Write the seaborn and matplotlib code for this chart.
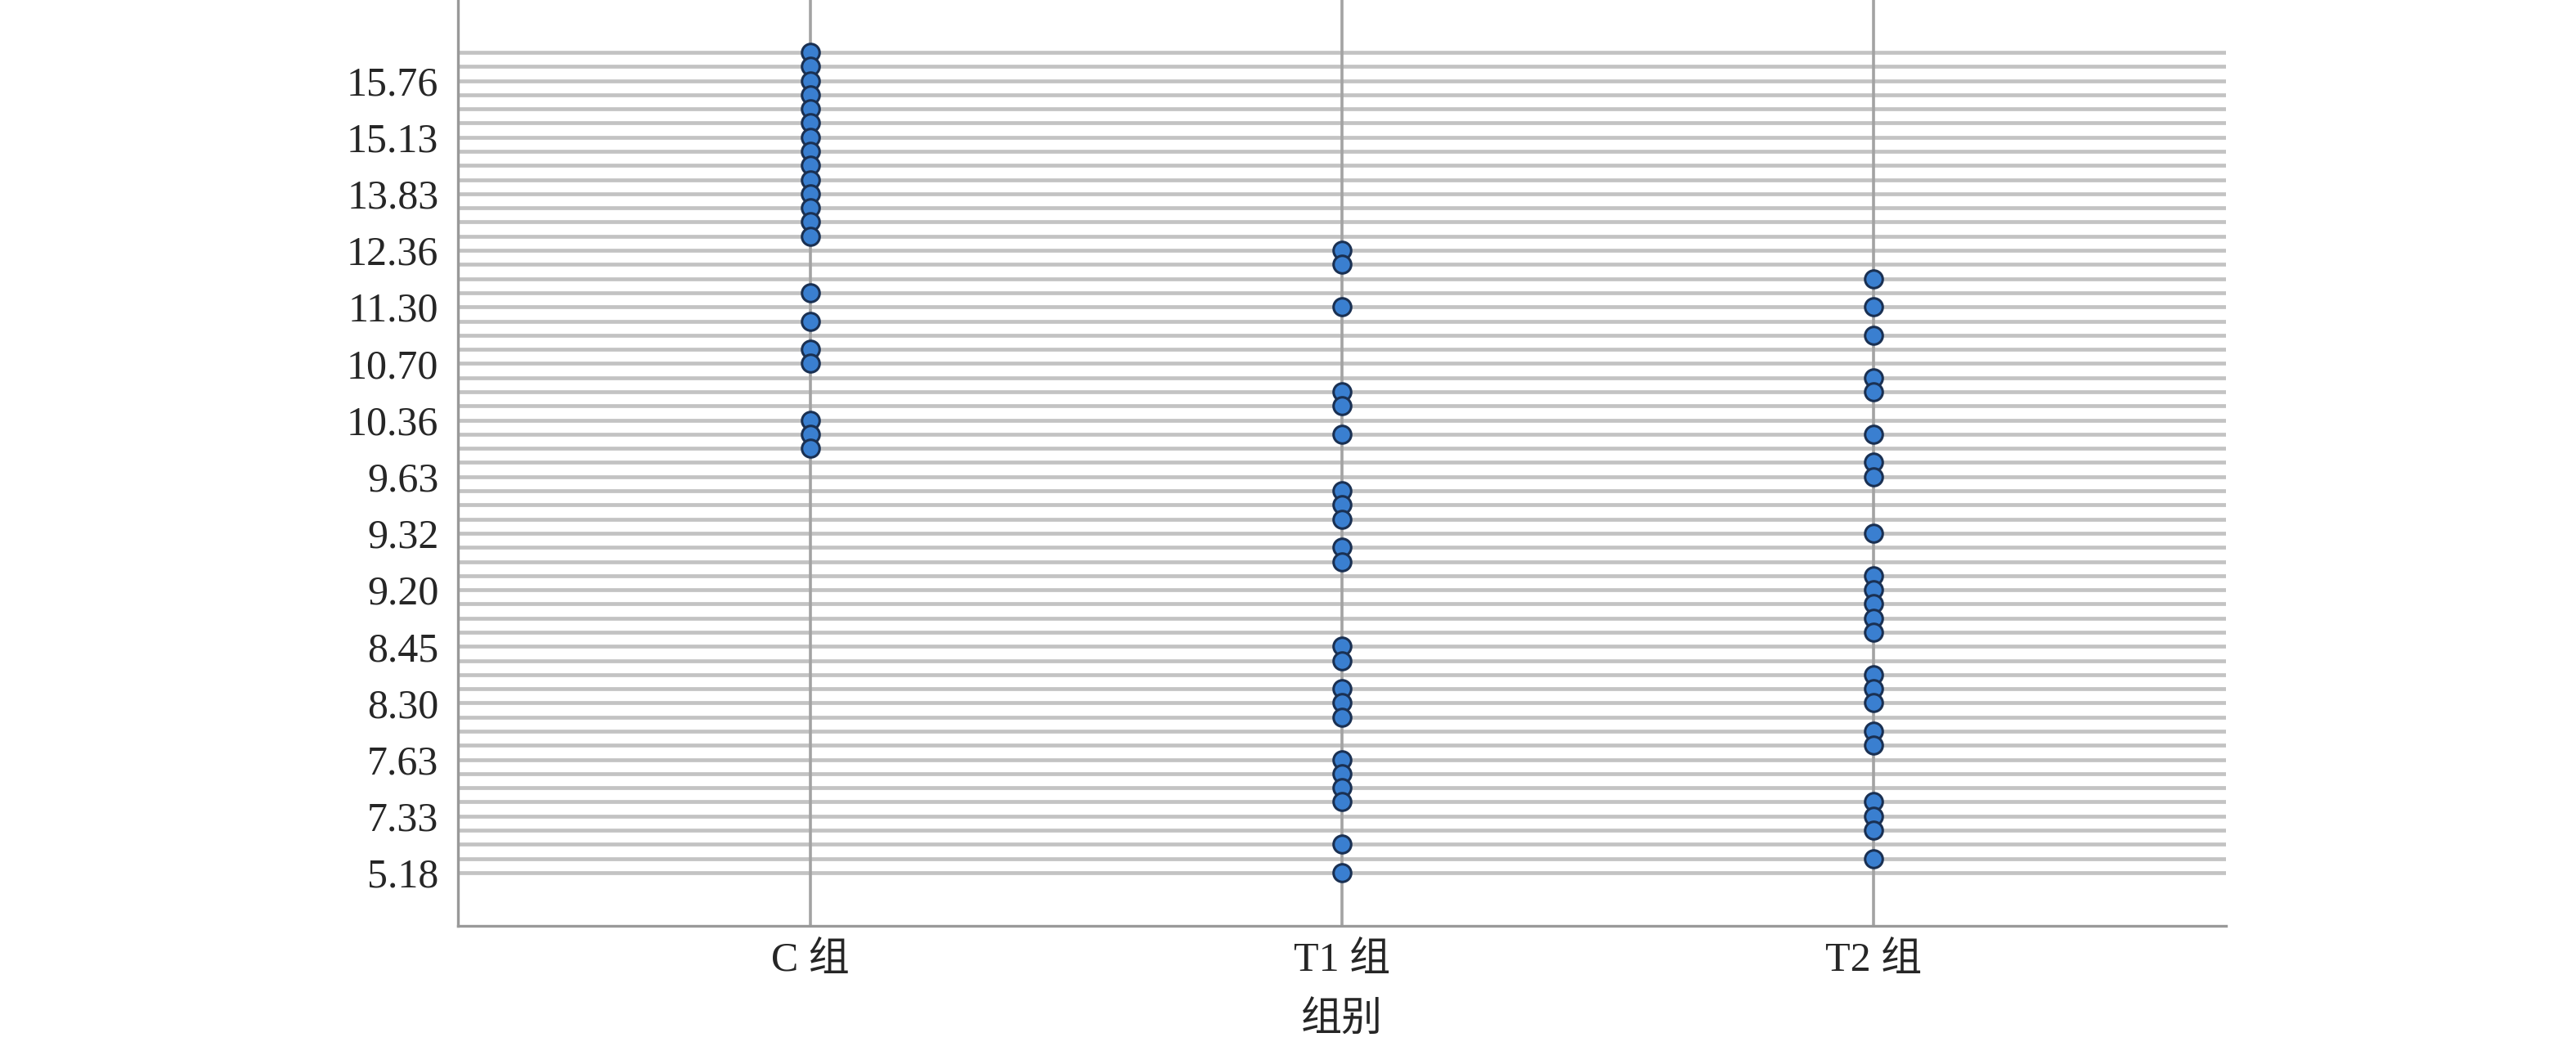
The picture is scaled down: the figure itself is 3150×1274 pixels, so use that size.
import pandas as pd
import matplotlib
matplotlib.use('Agg')
import matplotlib.pyplot as plt
import seaborn as sns

# Datos (valores por grupo)
grupos = ['C 组', 'T1 组', 'T2 组']
valores_c = [16.12, 15.95, 15.76, 15.52, 15.38, 15.25, 15.13, 14.80, 14.52, 14.10,
             13.83, 13.47, 13.15, 12.80, 11.56, 11.12, 10.81, 10.70, 10.36, 10.20, 10.02]
valores_t1 = [12.36, 12.10, 11.30, 10.55, 10.48, 10.20, 9.52, 9.45, 9.38, 9.28, 9.25,
              8.45, 8.41, 8.33, 8.30, 8.12, 7.63, 7.52, 7.45, 7.38, 6.65, 5.18]
valores_t2 = [11.82, 11.30, 10.95, 10.62, 10.55, 10.20, 9.85, 9.63, 9.32, 9.22, 9.20,
              9.02, 8.86, 8.63, 8.37, 8.33, 8.30, 7.95, 7.78, 7.38, 7.33, 7.10, 6.02]
etiquetas_y = ['15.76', '15.13', '13.83', '12.36', '11.30', '10.70', '10.36', '9.63',
               '9.32', '9.20', '8.45', '8.30', '7.63', '7.33', '5.18']

sns.set_style('white')
plt.rcParams['font.family'] = ['Liberation Serif', 'Noto Sans CJK SC']
plt.rcParams['font.size'] = 35

# DataFrame largo; el eje y es categorico (cada valor distinto es una fila)
df = pd.DataFrame({
    'grupo': ['C 组'] * len(valores_c) + ['T1 组'] * len(valores_t1) + ['T2 组'] * len(valores_t2),
    'valor': valores_c + valores_t1 + valores_t2,
})
categorias = sorted(df['valor'].unique())
df['fila'] = pd.Categorical(df['valor'], categories=categorias).codes

fig = plt.figure(figsize=(31.5, 12.74), dpi=100)
ax = fig.add_axes([0.1778, 0.1115, 0.6863, 0.8885])
ax.set_axisbelow(True)

sns.stripplot(data=df, x='grupo', y='fila', order=grupos, jitter=False,
              color='#3a7fd0', edgecolor='#1a3052', linewidth=2.2, size=15.5,
              zorder=3, ax=ax)

for i in range(len(grupos)):
    ax.axvline(i, color='#a3a3a3', lw=2.6, zorder=1)

ax.set_xlim(-0.662, 2.662)
ax.set_ylim(-3.76, len(categorias) - 1 + 3.7)

filas = list(range(len(categorias)))
ax.set_yticks(filas)
ax.set_yticklabels(['%.2f' % v if '%.2f' % v in etiquetas_y else '' for v in categorias])
ax.grid(axis='y', color='#c3c3c3', linewidth=3.4)
ax.grid(axis='x', visible=False)

ax.tick_params(axis='y', length=0, pad=17, labelsize=36)
ax.tick_params(axis='x', length=0, pad=14, labelsize=36)
ax.set_xlabel('组别', fontsize=36, labelpad=20)
ax.set_ylabel('')

sns.despine(ax=ax, top=True, right=True)
for lado in ['left', 'bottom']:
    ax.spines[lado].set_color('#999999')
    ax.spines[lado].set_linewidth(2.4)

fig.savefig('out.png', dpi=100)
